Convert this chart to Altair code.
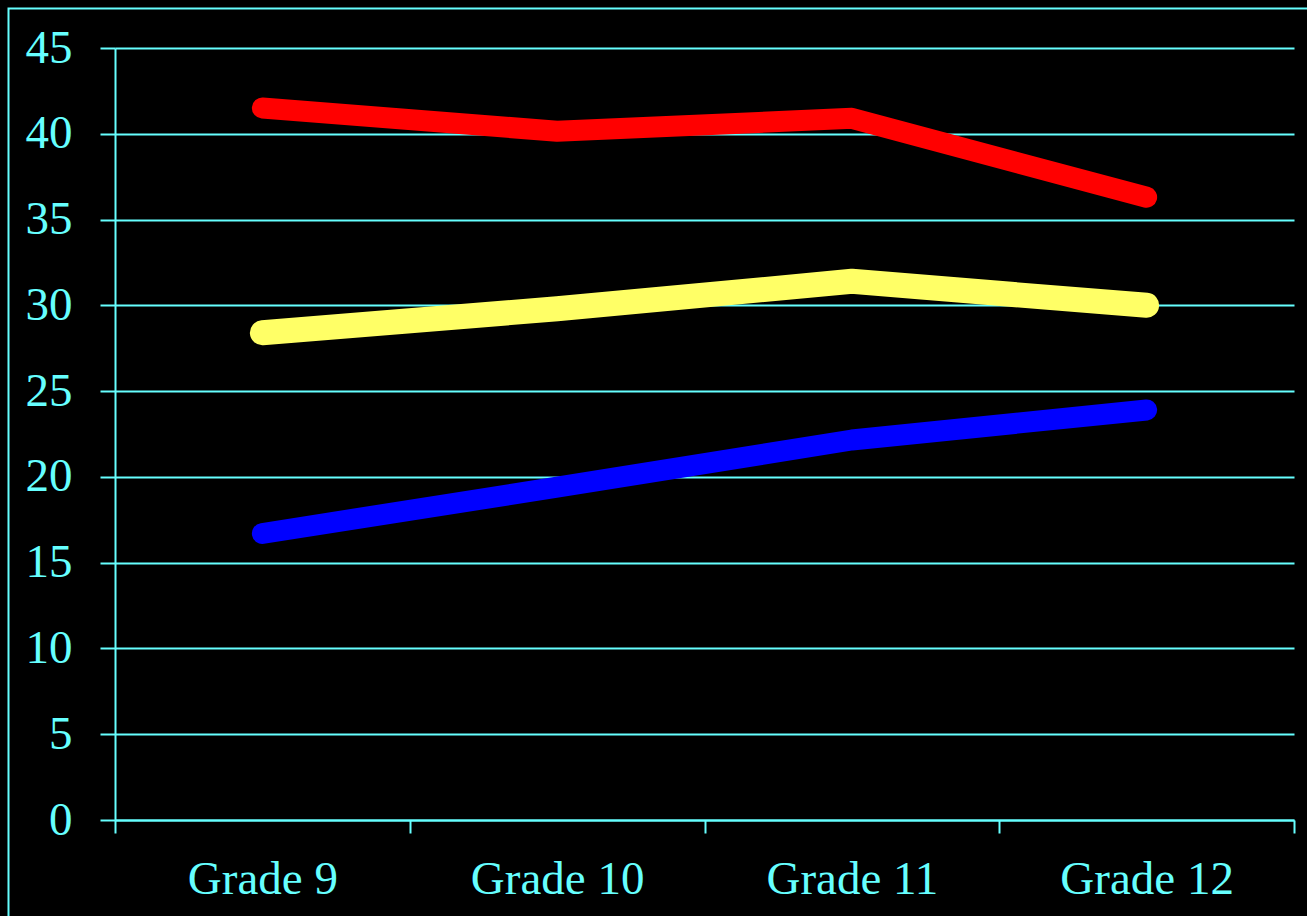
import altair as alt
import pandas as pd

# Categories and series values
grades = ["Grade 9", "Grade 10", "Grade 11", "Grade 12"]
series_names = ["Series 1", "Series 2", "Series 3"]
series_colors = ["#FF0000", "#FFFF66", "#0000FF"]
series_widths = [21, 25, 21]
series_1 = [41.5, 40.15, 40.9, 36.3]
series_2 = [28.4, 29.8, 31.4, 30.0]
series_3 = [16.7, 19.4, 22.15, 23.9]
y_ticks = [0, 5, 10, 15, 20, 25, 30, 35, 40, 45]

CYAN = "#66FFFF"
FONT = "Liberation Serif"
PLOT_W, PLOT_H = 1179, 772

x_enc = alt.X(
    "grade:N",
    sort=grades,
    bandPosition=0.5,
    scale=alt.Scale(type="band", paddingInner=0, paddingOuter=0),
    axis=alt.Axis(
        title=None, labelAngle=0, tickBand="extent", grid=False,
        tickSize=13, tickWidth=2, tickColor=CYAN,
        domainColor=CYAN, domainWidth=2,
        labelPadding=23, labelFontSize=47, labelFont=FONT,
        labelColor=CYAN,
    ),
)
y_enc = alt.Y(
    "value:Q",
    scale=alt.Scale(domain=[0, 45], nice=False, zero=True),
    axis=alt.Axis(
        title=None, values=y_ticks, grid=True,
        gridColor=CYAN, gridWidth=2, gridOpacity=1,
        tickSize=15, tickWidth=2, tickColor=CYAN,
        domainColor=CYAN, domainWidth=2,
        labelPadding=28, labelFontSize=47, labelFont=FONT,
        labelColor=CYAN,
    ),
)

# One thick rounded line per series
series_layers = []
for name, vals, color, width in zip(
    series_names, [series_1, series_2, series_3], series_colors, series_widths
):
    d = pd.DataFrame({"grade": grades, "value": vals, "series": name})
    series_layers.append(
        alt.Chart(d).mark_line(
            color=color, strokeWidth=width, strokeCap="round", strokeJoin="round"
        ).encode(x=x_enc, y=y_enc)
    )

# Outer frame around the whole slide
frame = alt.Chart(pd.DataFrame({"k": [0]})).mark_rect(
    filled=False, stroke=CYAN, strokeWidth=2
).encode(
    x=alt.value(-106.5),
    x2=alt.value(PLOT_W + 60),
    y=alt.value(-39.5),
    y2=alt.value(PLOT_H + 140),
)

chart = alt.layer(frame, *series_layers).properties(
    width=PLOT_W,
    height=PLOT_H,
    autosize=alt.AutoSizeParams(type="none"),
    padding={"left": 115, "top": 48, "right": 13, "bottom": 96},
    background="black",
).configure_view(strokeWidth=0)

chart.save("out.html", embed_options={"renderer": "svg", "actions": False})
